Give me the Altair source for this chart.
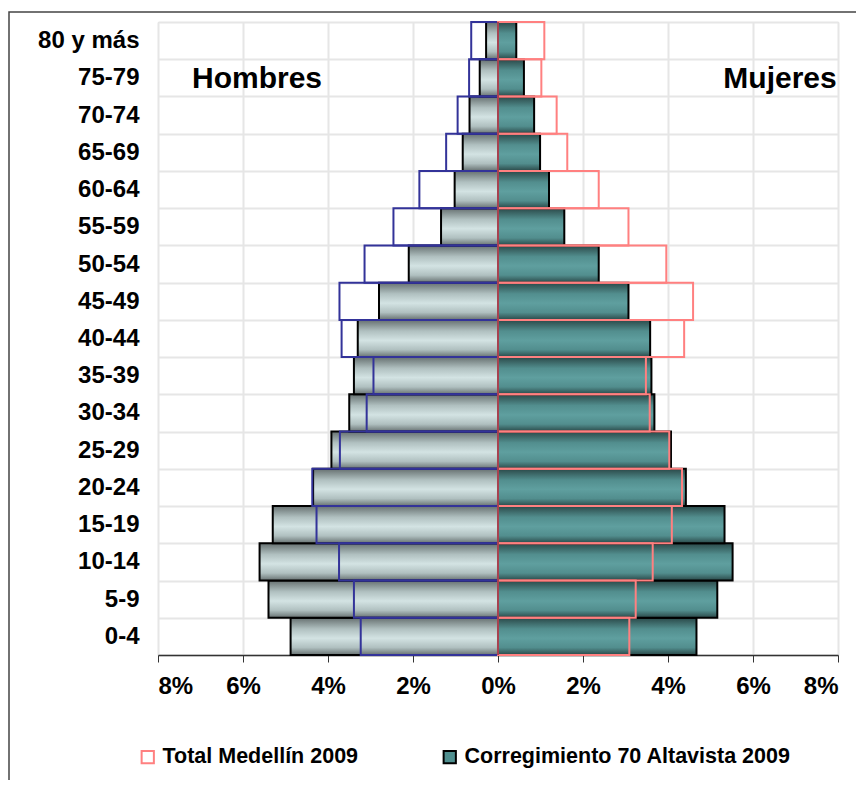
import altair as alt
import pandas as pd

# Age groups, bottom (0-4) to top (80 y más)
grupos = ["0-4", "5-9", "10-14", "15-19", "20-24", "25-29", "30-34", "35-39",
          "40-44", "45-49", "50-54", "55-59", "60-64", "65-69", "70-74", "75-79", "80 y más"]

# Corregimiento 70 Altavista 2009 (% of population)
corr_hombres = [4.88, 5.40, 5.61, 5.30, 4.35, 3.92, 3.50, 3.39, 3.30, 2.80, 2.10, 1.34, 1.02, 0.83, 0.67, 0.43, 0.28]
corr_mujeres = [4.67, 5.16, 5.52, 5.33, 4.42, 4.07, 3.68, 3.61, 3.58, 3.07, 2.37, 1.56, 1.20, 0.99, 0.85, 0.61, 0.43]
# Total Medellín 2009 (% of population)
tot_hombres = [3.23, 3.39, 3.74, 4.27, 4.37, 3.72, 3.09, 2.93, 3.68, 3.73, 3.14, 2.46, 1.85, 1.22, 0.95, 0.68, 0.63]
tot_mujeres = [3.09, 3.24, 3.64, 4.09, 4.33, 4.03, 3.57, 3.48, 4.38, 4.59, 3.96, 3.07, 2.37, 1.63, 1.38, 1.02, 1.09]

ticks = [-8, -6, -4, -2, 0, 2, 4, 6, 8]
serie_tot = "Total Medellín 2009"
serie_corr = "Corregimiento 70 Altavista 2009"

rows = []
for i, g in enumerate(grupos):
    rows.append({"grupo": g, "serie": "corr", "sexo": "H", "valor": -corr_hombres[i]})
    rows.append({"grupo": g, "serie": "corr", "sexo": "M", "valor": corr_mujeres[i]})
    rows.append({"grupo": g, "serie": "tot", "sexo": "H", "valor": -tot_hombres[i]})
    rows.append({"grupo": g, "serie": "tot", "sexo": "M", "valor": tot_mujeres[i]})
df = pd.DataFrame(rows)

orden = list(reversed(grupos))
FONT = "Liberation Sans"

x_enc = alt.X("valor:Q",
              scale=alt.Scale(domain=[-8, 8], nice=False),
              axis=alt.Axis(values=ticks, labelExpr="abs(datum.value) + '%'", title=None,
                            labelFont=FONT, labelFontWeight="bold", labelFontSize=24,
                            labelColor="black", tickColor="#333333", tickSize=7, tickWidth=1,
                            domainColor="#333333", domainWidth=1.5,
                            gridColor="#e6e6e6", gridWidth=2, labelPadding=12))
y_enc = alt.Y("grupo:N", sort=orden,
              scale=alt.Scale(paddingInner=0, paddingOuter=0),
              axis=alt.Axis(title=None, tickBand="extent", ticks=False, domain=False,
                            grid=True, gridColor="#e6e6e6", gridWidth=2,
                            labelFont=FONT, labelFontWeight="bold", labelFontSize=24,
                            labelColor="black", labelPadding=19))

grad_h = alt.Gradient(gradient="linear", x1=0, x2=0, y1=0, y2=1, stops=[
    alt.GradientStop(offset=0, color="#667070"),
    alt.GradientStop(offset=0.3, color="#b0c0c0"),
    alt.GradientStop(offset=0.55, color="#d3e3e3"),
    alt.GradientStop(offset=0.8, color="#b0c0c0"),
    alt.GradientStop(offset=1, color="#667070")])
grad_m = alt.Gradient(gradient="linear", x1=0, x2=0, y1=0, y2=1, stops=[
    alt.GradientStop(offset=0, color="#2a4848"),
    alt.GradientStop(offset=0.3, color="#528e8e"),
    alt.GradientStop(offset=0.55, color="#5f9f9f"),
    alt.GradientStop(offset=0.8, color="#528e8e"),
    alt.GradientStop(offset=1, color="#2a4848")])

base = alt.Chart(df).encode(x=x_enc, y=y_enc)

corr_h = base.mark_bar(fill=grad_h, stroke="black", strokeWidth=2).transform_filter(
    "datum.serie == 'corr' && datum.sexo == 'H'")
corr_m = base.mark_bar(fill=grad_m, stroke="black", strokeWidth=2).transform_filter(
    "datum.serie == 'corr' && datum.sexo == 'M'")
tot_h = base.mark_bar(fillOpacity=0, stroke="#333399", strokeWidth=2).transform_filter(
    "datum.serie == 'tot' && datum.sexo == 'H'")
tot_m = base.mark_bar(fillOpacity=0, stroke="#ff8080", strokeWidth=2).transform_filter(
    "datum.serie == 'tot' && datum.sexo == 'M'")

centro = alt.Chart(pd.DataFrame({"v": [0]})).mark_rule(color="#8a2e40", strokeWidth=1.5).encode(
    x=alt.X("v:Q"))

etiquetas = pd.DataFrame({"texto": ["Hombres", "Mujeres"], "valor": [-7.2, 7.97],
                          "grupo": ["75-79", "75-79"]})
txt_h = alt.Chart(etiquetas[etiquetas.texto == "Hombres"]).mark_text(
    align="left", baseline="middle", font=FONT, fontWeight="bold", fontSize=30, color="black", dy=1
).encode(x="valor:Q", y=alt.Y("grupo:N", sort=orden), text="texto:N")
txt_m = alt.Chart(etiquetas[etiquetas.texto == "Mujeres"]).mark_text(
    align="right", baseline="middle", font=FONT, fontWeight="bold", fontSize=30, color="black", dy=1
).encode(x="valor:Q", y=alt.Y("grupo:N", sort=orden), text="texto:N")

leg_df = pd.DataFrame({"leyenda": [serie_tot, serie_corr]})
leg_dom = [serie_tot, serie_corr]
leg_props = dict(title=None, orient="none", legendX=-21, legendY=724, direction="horizontal",
                 columns=2, columnPadding=80, symbolType="square", symbolSize=150,
                 symbolStrokeWidth=2, symbolOpacity=1, labelFont=FONT, labelFontWeight="bold",
                 labelFontSize=21.5, labelColor="black", labelOffset=4, labelLimit=500)
leyenda = alt.Chart(leg_df).mark_square(opacity=0, size=1).encode(
    fill=alt.Fill("leyenda:N", scale=alt.Scale(domain=leg_dom, range=["white", "#4f8f8f"]),
                  legend=alt.Legend(**leg_props)),
    stroke=alt.Stroke("leyenda:N", scale=alt.Scale(domain=leg_dom, range=["#ff8080", "black"]),
                      legend=alt.Legend(**leg_props)),
)

marco = alt.Chart(pd.DataFrame({"a": [1]})).mark_rect(
    fillOpacity=0, stroke="#444444", strokeWidth=1.5
).encode(x=alt.value(-149), x2=alt.value(760), y=alt.value(-10), y2=alt.value(800))

chart = alt.layer(marco, corr_h, corr_m, tot_h, tot_m, centro, txt_h, txt_m, leyenda).resolve_scale(
    fill="independent", stroke="independent"
).properties(
    width=680, height=633,
    autosize=alt.AutoSizeParams(type="none"),
    padding={"left": 150, "top": 14, "right": 18, "bottom": 125},
).configure_view(stroke="#e6e6e6", strokeWidth=2).configure(background="white")

chart.save("out.html", embed_options={"renderer": "svg", "actions": False})
